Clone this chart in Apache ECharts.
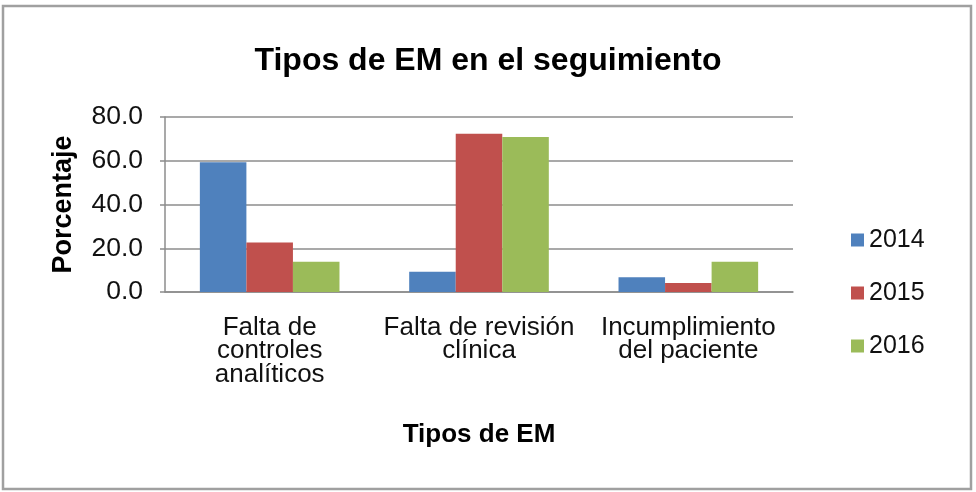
<!DOCTYPE html>
<html>
<head>
<meta charset="utf-8">
<script src="https://cdn.jsdelivr.net/npm/echarts@6/dist/echarts.min.js"></script>
<style>
html,body{margin:0;padding:0;background:#fff;}
#c{width:976px;height:492px;}
</style>
</head>
<body>
<div id="c"></div>
<script>
var categories = ["Falta de\ncontroles\nanalíticos", "Falta de revisión\nclínica", "Incumplimiento\ndel paciente"];
var seriesNames = ["2014", "2015", "2016"];
var values2014 = [59.3, 9.3, 6.7];
var values2015 = [22.6, 72.3, 4.1];
var values2016 = [13.8, 70.9, 13.8];
var yTicks = [0, 20, 40, 60, 80];

var FONT = '"Liberation Sans", Arial, Helvetica, sans-serif';
var colors = ['#4F81BD', '#C0504D', '#9BBB59'];
var allValues = [values2014, values2015, values2016];

var chart = echarts.init(document.getElementById('c'), null, {renderer: 'canvas'});
var series = seriesNames.map(function (n, i) {
  return {
    name: n,
    type: 'bar',
    data: allValues[i],
    barGap: '0%',
    barCategoryGap: '33.3%',
    itemStyle: {color: colors[i]}
  };
});

chart.setOption({
  animation: false,
  backgroundColor: '#fff',
  color: colors,
  title: {
    text: 'Tipos de EM en el seguimiento',
    left: 'center',
    top: 40,
    textStyle: {fontFamily: FONT, fontSize: 32, fontWeight: 'bold', color: '#000'}
  },
  legend: {
    orient: 'vertical',
    left: 846,
    top: 222,
    itemWidth: 13,
    itemHeight: 13,
    itemGap: 27,
    icon: 'rect',
    data: seriesNames,
    textStyle: {fontFamily: FONT, fontSize: 25, lineHeight: 26, color: '#111', padding: [0,0,0,0]}
  },
  grid: {left: 165, right: 183, top: 117, bottom: 200, containLabel: false},
  xAxis: {
    type: 'category',
    data: categories,
    name: 'Tipos de EM',
    nameLocation: 'middle',
    nameGap: 130,
    nameTextStyle: {fontFamily: FONT, fontSize: 26, fontWeight: 'bold', color: '#000'},
    axisLine: {show: true, lineStyle: {color: '#8c8c8c', width: 1.5}},
    axisTick: {show: false},
    axisLabel: {fontFamily: FONT, fontSize: 26, lineHeight: 23.5, color: '#111', margin: 24, interval: 0}
  },
  yAxis: {
    type: 'value',
    min: yTicks[0],
    max: yTicks[yTicks.length - 1],
    interval: 20,
    name: 'Porcentaje',
    nameLocation: 'middle',
    nameGap: 88,
    nameTextStyle: {fontFamily: FONT, fontSize: 27, fontWeight: 'bold', color: '#000'},
    axisLine: {show: true, lineStyle: {color: '#8c8c8c', width: 1.5}},
    axisTick: {show: true, inside: false, length: 5, lineStyle: {color: '#8c8c8c', width: 1.5}},
    splitLine: {show: true, lineStyle: {color: '#8c8c8c', width: 1.5}},
    axisLabel: {
      fontFamily: FONT, fontSize: 26.5, color: '#111', margin: 22,
      formatter: function (v) { return v.toFixed(1); }
    }
  },
  graphic: [{
    type: 'rect',
    shape: {x: 3, y: 6, width: 968, height: 483},
    style: {fill: 'none', stroke: '#a0a0a0', lineWidth: 2.5},
    silent: true,
    z: -1
  }],
  series: series
});
</script>
</body>
</html>
